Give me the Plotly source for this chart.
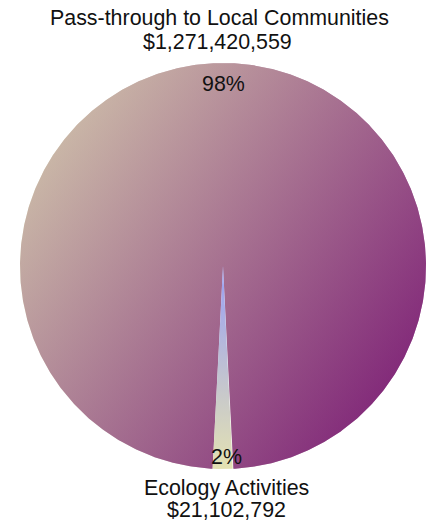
import numpy as np
import plotly.graph_objects as go

# Budget split
labels = ["Pass-through to Local Communities", "Ecology Activities"]
amounts = [1271420559, 21102792]

W, H = 429, 524
CX, CY, R = 223, 266, 203  # pie centre / radius in pixels

total = sum(amounts)
frac = [a / total for a in amounts]


def wedge(t0, t1, n=360):
    """Unit-radius wedge, angles in degrees clockwise from 12 o'clock."""
    th = np.radians(np.linspace(t0, t1, n))
    x = np.concatenate([[0.0], np.sin(th), [0.0]])
    y = np.concatenate([[0.0], np.cos(th), [0.0]])
    return x, y


# small slice is centred on 6 o'clock, the large one takes the remainder
half = frac[1] * 180.0
small_x, small_y = wedge(180 - half, 180 + half, 60)
big_x, big_y = wedge(180 + half, 540 - half, 720)

fig = go.Figure()

# large slice: a horizontal ramp with a half-transparent vertical ramp on top
fig.add_trace(go.Scatter(
    x=big_x, y=big_y, mode="lines", line=dict(width=0), fill="toself",
    fillgradient=dict(type="horizontal", start=-1, stop=1,
                      colorscale=[[0, "rgb(222,232,180)"], [1, "rgb(110,6,108)"]]),
    hoverinfo="skip", showlegend=False))
fig.add_trace(go.Scatter(
    x=big_x, y=big_y, mode="lines", line=dict(width=0), fill="toself",
    fillgradient=dict(type="vertical", start=-1, stop=1,
                      colorscale=[[0, "rgba(125,28,119,0.5)"], [1, "rgba(207,184,170,0.5)"]]),
    hoverinfo="skip", showlegend=False))

# small slice: pale yellow at the rim fading to lavender at the centre
fig.add_trace(go.Scatter(
    x=small_x, y=small_y, mode="lines", line=dict(width=0), fill="toself",
    fillgradient=dict(type="vertical", start=-1, stop=0,
                      colorscale=[[0, "rgb(228,226,178)"], [1, "rgb(152,158,245)"]]),
    hoverinfo="skip", showlegend=False))

font = dict(family="Liberation Sans, Arial, sans-serif", size=21.4, color="#111111")


def label(text, px, py):
    fig.add_annotation(text=text, x=px / W, y=1 - py / H, xref="paper", yref="paper",
                       showarrow=False, xanchor="center", yanchor="middle", font=font)


label(labels[0], 219, 18)
label(f"${amounts[0]:,}", 217, 42)
label(f"{round(frac[0] * 100)}%", 223, 84)
label(f"{round(frac[1] * 100)}%", 227, 457)
label(labels[1], 227, 488)
label(f"${amounts[1]:,}", 226, 510)

fig.update_layout(
    width=W, height=H,
    margin=dict(l=0, r=0, t=0, b=0),
    paper_bgcolor="white", plot_bgcolor="white",
    xaxis=dict(range=[-CX / R, (W - CX) / R], visible=False, fixedrange=True),
    yaxis=dict(range=[-(H - CY) / R, CY / R], visible=False, fixedrange=True),
    showlegend=False,
)

fig.write_html("out.html")
